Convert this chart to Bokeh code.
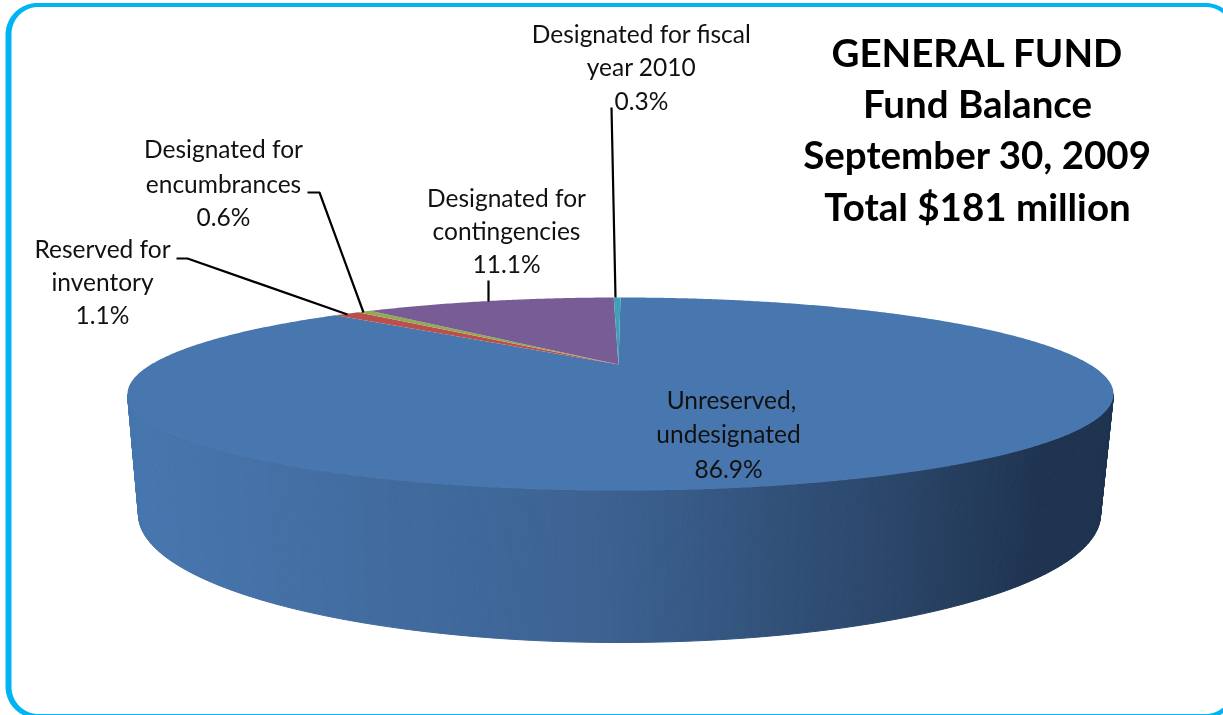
import numpy as np
from bokeh.embed import file_html
from bokeh.resources import INLINE
from bokeh.plotting import figure
from bokeh.models import Range1d
from bokeh.core.properties import value

categories = ["Unreserved, undesignated", "Reserved for inventory", "Designated for encumbrances",
              "Designated for contingencies", "Designated for fiscal year 2010"]
shares = [86.9, 1.1, 0.6, 11.1, 0.3]
slice_colors = ["#4877AF", "#B9504D", "#93AA50", "#785C95", "#3FA0B6"]

title_lines = ["GENERAL FUND", "Fund Balance", "September 30, 2009", "Total $181 million"]
title_y = [51, 102, 153, 205]
label_text = ["Designated for fiscal", "year 2010", "0.3%",
              "Designated for", "encumbrances", "0.6%",
              "Reserved for", "inventory", "1.1%",
              "Designated for", "contingencies", "11.1%",
              "Unreserved,", "undesignated", "86.9%"]
label_x = [641, 641, 641, 223, 223, 223, 102, 102, 102, 506, 506, 506, 731, 728, 728]
label_y = [33, 66, 100, 148, 183, 216, 248, 281, 314, 197, 230, 263, 399, 433, 468]
leaders_x = [[611, 615], [488, 488], [307, 319, 363], [176, 187, 347]]
leaders_y = [[107, 297], [280, 301], [192, 192, 312], [258, 258, 314]]

W, H = 1223, 715
p = figure(width=W, height=H, output_backend="svg", toolbar_location=None,
           x_range=Range1d(0, W), y_range=Range1d(H, 0), min_border=0,
           outline_line_color=None, background_fill_color="white", border_fill_color="white")
p.axis.visible = False
p.grid.visible = False
p.styles = {"position": "fixed", "left": "0px", "top": "0px"}

# frame
def rrect(l, t, r, b, rad):
    a = np.linspace(0, np.pi / 2, 24)
    xs = np.r_[r - rad + rad * np.sin(a), r - rad + rad * np.cos(a), l + rad - rad * np.sin(a), l + rad - rad * np.cos(a)]
    ys = np.r_[t + rad - rad * np.cos(a), b - rad + rad * np.sin(a), b - rad + rad * np.cos(a), t + rad - rad * np.sin(a)]
    return xs, ys
ox, oy = rrect(5, 2.5, 1237, 718, 32)
ix, iy = rrect(11, 6.5, 1232, 713.5, 27)
p.patch(ox, oy, fill_color="#00B4F4", line_color=None)
p.patch(ix, iy, fill_color="white", line_color=None)

# pie geometry (perspective-projected disc)
apex_x, cy = 618.0, 364.0
rim_x = 620.0
persp = 0.3057
kx, ky = 469.4, 87.5
def project(theta):
    u, v = np.sin(theta), np.cos(theta)
    d = 1 + persp * v
    return rim_x + kx * u / d, cy - ky * v / d

# side wall, shaded strip by strip
ex, ey, ea, eb = 620.0, 393.5, 493.0, 96.5
bx, by, ba, bb = 619.0, 514.0, 481.0, 128.0
stops_x = [127, 600, 900, 1050, 1113]
stops_c = np.array([[0x48, 0x77, 0xAF], [0x3D, 0x63, 0x93], [0x2B, 0x46, 0x69], [0x1F, 0x34, 0x50], [0x1F, 0x34, 0x50]])
th = np.linspace(np.pi, 0, 260)
strip_x, strip_y, strip_c = [], [], []
for a0, a1 in zip(th[:-1], th[1:]):
    xs = [ex + ea * np.cos(a0), ex + ea * np.cos(a1), bx + ba * np.cos(a1), bx + ba * np.cos(a0)]
    ys = [ey + eb * np.sin(a0), ey + eb * np.sin(a1), by + bb * np.sin(a1), by + bb * np.sin(a0)]
    m = (xs[0] + xs[1]) / 2
    rgb = [int(np.interp(m, stops_x, stops_c[:, k])) for k in range(3)]
    strip_x.append(xs)
    strip_y.append(ys)
    strip_c.append("#%02x%02x%02x" % tuple(rgb))
p.patches(strip_x, strip_y, fill_color=strip_c, line_color=strip_c, line_width=1)

# top face
edges = np.r_[0, np.cumsum(shares)] / sum(shares) * 2 * np.pi
for a0, a1, c in zip(edges[:-1], edges[1:], slice_colors):
    n = max(3, int((a1 - a0) * 120))
    x, y = project(np.linspace(a0, a1, n))
    p.patch(np.r_[apex_x, x], np.r_[cy, y], fill_color=c, line_color=None)

# leaders
p.multi_line(leaders_x, leaders_y, line_color="black", line_width=2.2)

# labels
p.text(x=label_x, y=label_y, text=label_text, text_font=value("Lato"), text_font_size="24.5px",
       text_color="#111111", text_align="center", text_baseline="middle")
p.text(x=[977] * 4, y=title_y, text=title_lines, text_font=value("Lato"), text_font_size="38.5px",
       text_font_style="bold", text_color="black", text_align="center", text_baseline="middle")

open("out.html", "w").write(file_html(p, INLINE))
